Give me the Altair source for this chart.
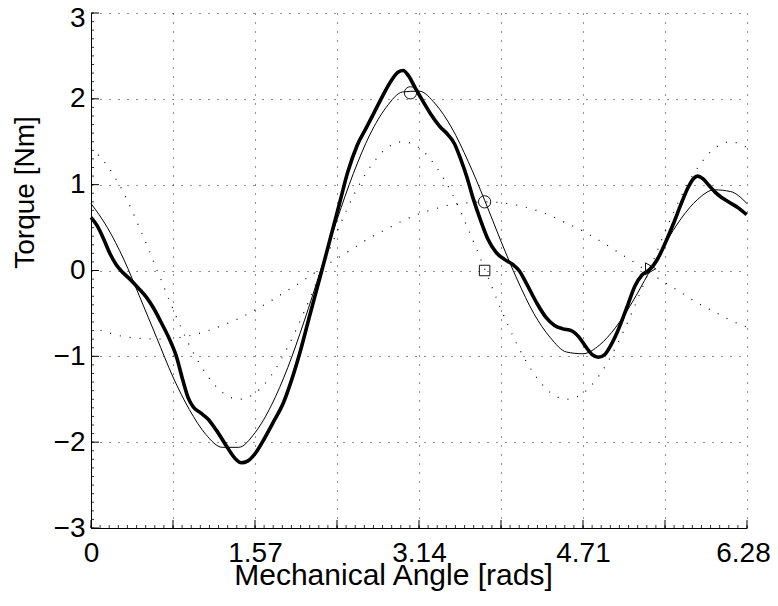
import altair as alt
import pandas as pd

# ---- data ----
angle = [0.000, 0.157, 0.314, 0.471, 0.628, 0.785, 0.942, 1.100, 1.257, 1.414,
         1.571, 1.728, 1.885, 2.042, 2.199, 2.356, 2.513, 2.670, 2.827, 2.985,
         3.142, 3.299, 3.456, 3.613, 3.770, 3.927, 4.084, 4.241, 4.398, 4.555,
         4.712, 4.869, 5.027, 5.184, 5.341, 5.498, 5.655, 5.812, 5.969, 6.126, 6.283]

second_harmonic = [1.43, 1.22, 0.90, 0.48, 0.02, -0.45, -0.87, -1.20, -1.42, -1.50,
                   -1.43, -1.22, -0.89, -0.48, -0.02, 0.45, 0.87, 1.20, 1.42, 1.50,
                   1.43, 1.22, 0.90, 0.48, 0.02, -0.45, -0.87, -1.20, -1.42, -1.50,
                   -1.43, -1.22, -0.89, -0.48, -0.02, 0.45, 0.87, 1.20, 1.42, 1.50, 1.43]

first_harmonic = [-0.66, -0.72, -0.77, -0.79, -0.80, -0.79, -0.76, -0.71, -0.64, -0.56,
                  -0.46, -0.35, -0.23, -0.11, 0.02, 0.14, 0.26, 0.38, 0.48, 0.58,
                  0.66, 0.72, 0.77, 0.79, 0.80, 0.79, 0.76, 0.71, 0.64, 0.55,
                  0.46, 0.35, 0.23, 0.11, -0.02, -0.14, -0.26, -0.38, -0.48, -0.58, -0.66]

fitted = [0.78, 0.50, 0.13, -0.32, -0.78, -1.24, -1.62, -1.91, -2.06, -2.06,
          -1.89, -1.57, -1.13, -0.59, 0.00, 0.59, 1.13, 1.58, 1.90, 2.08,
          2.09, 1.94, 1.66, 1.27, 0.82, 0.34, -0.11, -0.50, -0.78, -0.95,
          -0.97, -0.87, -0.66, -0.37, -0.03, 0.31, 0.61, 0.83, 0.94, 0.92, 0.78]

measured_x = [0.00, 0.06, 0.12, 0.18, 0.24, 0.31, 0.38, 0.45, 0.53, 0.60,
              0.67, 0.74, 0.82, 0.88, 0.93, 0.98, 1.05, 1.12, 1.20, 1.30,
              1.38, 1.44, 1.50, 1.58, 1.66, 1.74, 1.84, 1.92, 2.00, 2.10,
              2.20, 2.30, 2.38, 2.46, 2.55, 2.64, 2.72, 2.80, 2.88, 2.94,
              2.99, 3.04, 3.10, 3.17, 3.25, 3.34, 3.42, 3.48, 3.54, 3.60,
              3.66, 3.73, 3.80, 3.88, 3.96, 4.04, 4.10, 4.17, 4.27, 4.36,
              4.44, 4.52, 4.60, 4.67, 4.74, 4.80, 4.86, 4.92, 4.98, 5.04,
              5.13, 5.21, 5.28, 5.35, 5.42, 5.50, 5.58, 5.65, 5.72, 5.77,
              5.81, 5.86, 5.92, 5.98, 6.04, 6.12, 6.20, 6.28]
measured_y = [0.62, 0.52, 0.37, 0.20, 0.07, -0.03, -0.11, -0.20, -0.31, -0.44,
              -0.60, -0.77, -1.01, -1.28, -1.48, -1.59, -1.66, -1.73, -1.86, -2.05,
              -2.19, -2.24, -2.22, -2.12, -1.96, -1.78, -1.55, -1.28, -0.96, -0.50,
              -0.05, 0.41, 0.78, 1.15, 1.46, 1.67, 1.86, 2.05, 2.22, 2.31,
              2.33, 2.27, 2.14, 1.99, 1.83, 1.68, 1.58, 1.48, 1.30, 1.09,
              0.84, 0.59, 0.37, 0.21, 0.13, 0.07, 0.00, -0.15, -0.38, -0.55,
              -0.64, -0.68, -0.70, -0.77, -0.89, -0.98, -1.01, -0.98, -0.87, -0.72,
              -0.44, -0.18, -0.05, 0.01, 0.12, 0.32, 0.55, 0.77, 0.97, 1.07,
              1.10, 1.07, 0.99, 0.91, 0.85, 0.79, 0.73, 0.65]

circle_x = [3.06, 3.77]
circle_y = [2.07, 0.80]
square_x = [3.77]
square_y = [0.00]
triangle_x = [5.36]
triangle_y = [0.02]

x_tick_values = [0.0, 0.7854, 1.5708, 2.3562, 3.1416, 3.927, 4.7124, 5.4978, 6.2832]
x_tick_labels = ['0', '', '1.57', '', '3.14', '', '4.71', '', '6.28']
y_tick_values = [-3, -2, -1, 0, 1, 2, 3]

# minor tick positions (axis decoration)
x_minor = [round(i * 6.2832 / 72, 4) for i in range(73)]
y_minor = [round(-3 + i * 0.1, 2) for i in range(61)]

# ---- layout ----
W, H = 656, 515
FONT = "Liberation Sans"

xs = alt.Scale(domain=[0, 6.2832], nice=False, zero=False)
ys = alt.Scale(domain=[-3, 3], nice=False, zero=False)

label_js = "[" + ",".join("'" + s + "'" for s in x_tick_labels) + "]"

xaxis = alt.Axis(
    values=x_tick_values,
    labelExpr=label_js + "[round(datum.value/0.785398)]",
    grid=True, gridColor="#222", gridDash=[1, 8], gridWidth=1,
    domain=True, domainColor="black", domainWidth=1,
    ticks=False, tickSize=0,
    labelFont=FONT, labelFontSize=28, labelColor="black",
    labelPadding=33, labelBaseline="alphabetic", labelFlush=False,
    labelOverlap=False,
    labelOffset={"condition": {"test": "datum.value > 6", "value": -4}, "value": 0},
    title="Mechanical Angle [rads]", titleFont=FONT, titleFontSize=30,
    titleFontWeight="normal", titleColor="black",
    titleX=302, titleY=56, titleAlign="center", titleBaseline="alphabetic",
)
yaxis = alt.Axis(
    values=y_tick_values, format="d",
    grid=True, gridColor="#222", gridDash=[1, 8], gridWidth=1,
    domain=True, domainColor="black", domainWidth=1,
    ticks=False, tickSize=0,
    labelFont=FONT, labelFontSize=28, labelColor="black",
    labelPadding=6, labelOverlap=False, labelFlush=False,
    labelOffset={"condition": {"test": "datum.value > 2.5", "value": 5}, "value": 0},
    title="Torque [Nm]", titleFont=FONT, titleFontSize=28,
    titleFontWeight="normal", titleColor="black",
    titleAngle=270, titleX=-66, titleY=179, titleAlign="center",
    titleBaseline="middle",
)


def X(f):
    return alt.X(f + ":Q", scale=xs, axis=xaxis)


def Y(f):
    return alt.Y(f + ":Q", scale=ys, axis=yaxis)


harm_df = pd.DataFrame({"a": angle, "h2": second_harmonic, "h1": first_harmonic, "fit": fitted})
meas_df = pd.DataFrame({"a": measured_x, "t": measured_y})

h2_line = alt.Chart(harm_df).mark_line(
    color="black", strokeWidth=1.2, strokeDash=[1, 9], interpolate="monotone"
).encode(x=X("a"), y=Y("h2"))
h1_line = alt.Chart(harm_df).mark_line(
    color="black", strokeWidth=1.2, strokeDash=[1, 9], interpolate="monotone"
).encode(x=X("a"), y=Y("h1"))
fit_line = alt.Chart(harm_df).mark_line(
    color="black", strokeWidth=1, interpolate="monotone"
).encode(x=X("a"), y=Y("fit"))
meas_line = alt.Chart(meas_df).mark_line(
    color="black", strokeWidth=3.6, interpolate="monotone"
).encode(x=X("a"), y=Y("t"))

circles = alt.Chart(pd.DataFrame({"a": circle_x, "v": circle_y})).mark_point(
    shape="circle", filled=False, color="#111", size=150, strokeWidth=1, opacity=1
).encode(x=X("a"), y=Y("v"))
squares = alt.Chart(pd.DataFrame({"a": square_x, "v": square_y})).mark_point(
    shape="square", filled=False, color="#111", size=110, strokeWidth=1, opacity=1
).encode(x=X("a"), y=Y("v"))
triangles = alt.Chart(pd.DataFrame({"a": triangle_x, "v": triangle_y})).mark_point(
    shape="triangle-right", filled=False, color="#111", size=140, strokeWidth=1, opacity=1
).encode(x=X("a"), y=Y("v"))

# inward axis ticks (MATLAB style)
xmaj = alt.Chart(pd.DataFrame({"a": x_tick_values})).mark_rule(color="black", strokeWidth=1).encode(
    x=X("a"), y=alt.value(H), y2=alt.value(H - 8))
xmin = alt.Chart(pd.DataFrame({"a": x_minor})).mark_rule(color="black", strokeWidth=0.8).encode(
    x=X("a"), y=alt.value(H), y2=alt.value(H - 3))
ymaj = alt.Chart(pd.DataFrame({"v": y_tick_values})).mark_rule(color="black", strokeWidth=1).encode(
    y=Y("v"), x=alt.value(0), x2=alt.value(8))
ymin = alt.Chart(pd.DataFrame({"v": y_minor})).mark_rule(color="black", strokeWidth=0.8).encode(
    y=Y("v"), x=alt.value(0), x2=alt.value(3))

chart = alt.layer(
    xmin, ymin, xmaj, ymaj, h2_line, h1_line, fit_line, meas_line, circles, squares, triangles
).properties(
    width=W, height=H,
    autosize=alt.AutoSizeParams(type="none"),
    padding={"left": 83, "top": 5, "right": 23, "bottom": 70},
    background="white",
).configure_view(stroke=None)

chart.save("out.html", embed_options={"renderer": "svg", "actions": False})
